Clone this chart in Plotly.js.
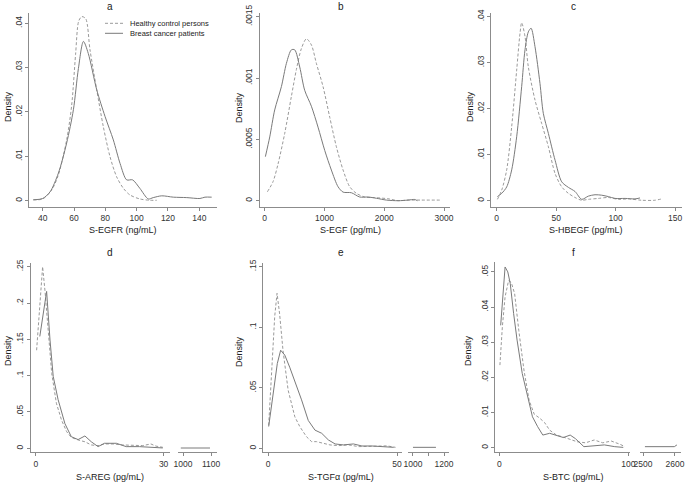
<!DOCTYPE html>
<html>
<head>
<meta charset="utf-8">
<script src="https://cdn.plot.ly/plotly-3.0.1.min.js"></script>
<style>
  body { margin: 0; background: #fff; }
  #chart { width: 685px; height: 483px; }
</style>
</head>
<body>
<div id="chart"></div>
<script>
// données (densités estimées)
// a - S-EGFR
var egfrX_h = [34, 40, 45.7, 50, 55.3, 58.5, 61, 63, 65, 67.5, 70.2, 74.5, 78.7, 83, 87.2, 91.5, 95.7, 102, 108.5, 112.8];
var egfrY_h = [0.0002, 0.0004, 0.0024, 0.0058, 0.0137, 0.0215, 0.033, 0.0405, 0.0415, 0.041, 0.034, 0.025, 0.0167, 0.0099, 0.0054, 0.0028, 0.0013, 0.0004, 0.0001, 0.0001];
var egfrX_c = [34, 40, 44.7, 50, 55.3, 59.6, 62.8, 66, 69.1, 74.5, 79.8, 85.1, 89.4, 93.6, 97.4, 102, 107.4, 110.6, 116, 123.4, 132, 140.4, 143.6, 147.9];
var egfrY_c = [0.0002, 0.0005, 0.002, 0.0062, 0.013, 0.0205, 0.0298, 0.0359, 0.0332, 0.025, 0.019, 0.0137, 0.0084, 0.0047, 0.0047, 0.0028, 0.0004, 0.0007, 0.0011, 0.0008, 0.0007, 0.0005, 0.0008, 0.0008];

// b - S-EGF
var egfX_h = [45, 139, 223, 335, 446, 530, 613, 697, 781, 864, 976, 1088, 1199, 1311, 1422, 1534, 1673, 1840, 2064, 2231, 2398, 2621, 2928];
var egfY_h = [0.000073, 0.000155, 0.0003, 0.00055, 0.00085, 0.00107, 0.00124, 0.00132, 0.00127, 0.00112, 0.00093, 0.00068, 0.00044, 0.00025, 0.000114, 0.00006, 0.00003, 0.000025, 0.000016, 0, 0.000005, 0.000005, 0.000005];
var egfX_c = [11, 84, 167, 279, 363, 446, 502, 586, 669, 781, 892, 1004, 1115, 1227, 1311, 1450, 1590, 1729, 1868, 2036, 2231, 2398, 2510, 2554];
var egfY_c = [0.000359, 0.00052, 0.00074, 0.00093, 0.00112, 0.00123, 0.00123, 0.00109, 0.0009, 0.00077, 0.0006, 0.00041, 0.00025, 0.000114, 0.00007, 0.000065, 0.00003, 0.00003, 0.00002, 0.000005, 0, 0.000005, 0.00001, 0];

// c - S-HBEGF
var hbegfX_h = [0.6, 4.2, 8.4, 12.6, 16.8, 19.6, 21, 23.8, 26.6, 32.2, 37.8, 43.5, 49.1, 54.7, 60.3, 65.9, 71.5, 77.1, 85.5, 93.9, 102.3, 110.7, 122, 133, 138.8];
var hbegfY_h = [0.0003, 0.0023, 0.0067, 0.0161, 0.0284, 0.0364, 0.0387, 0.0357, 0.0291, 0.0219, 0.0168, 0.0117, 0.0059, 0.003, 0.0016, 0.0007, 0.0001, 0.0003, 0.0005, 0.0007, 0.0003, 0.0004, 0.0001, 0.0001, 0.0004];
var hbegfX_c = [0.6, 4.2, 8.4, 12.6, 16.8, 21, 23.8, 26.6, 28.9, 32.2, 36.4, 39.2, 43.5, 49.1, 54.7, 60.3, 65.9, 71.5, 77.1, 82.7, 88.3, 93.9, 99.5, 108, 116.3, 120.5];
var hbegfY_c = [0.0009, 0.0016, 0.003, 0.0067, 0.0139, 0.0248, 0.0328, 0.0367, 0.0375, 0.0335, 0.0255, 0.019, 0.0146, 0.0088, 0.0041, 0.0029, 0.002, 0.0003, 0.001, 0.0013, 0.0012, 0.0009, 0.0005, 0.0005, 0.0004, 0.0006];

// d - S-AREG
var aregX_h = [0.15, 0.8, 1.56, 2.1, 2.9, 3.7, 4.8, 6, 7.2, 8.3, 9.9, 11.5, 13, 14.6, 16.1, 18.1, 20.4, 22.8, 25.1, 27, 28.2, 29.8];
var aregY_h = [0.135, 0.195, 0.25, 0.218, 0.154, 0.103, 0.062, 0.039, 0.023, 0.015, 0.0115, 0.009, 0.0046, 0.0037, 0.006, 0.006, 0.0046, 0.0037, 0.0037, 0.006, 0.003, 0.0014];
var aregX_c = [0.9, 1.7, 2.5, 3.3, 4.05, 5.2, 6.8, 8.3, 9.9, 11.5, 13, 14.6, 16.1, 18.9, 21.2, 24.3, 27.4, 29.8];
var aregY_c = [0.154, 0.186, 0.216, 0.149, 0.099, 0.067, 0.034, 0.016, 0.012, 0.017, 0.009, 0.0023, 0.0069, 0.0069, 0.0023, 0.0023, 0.0014, 0.0005];
var aregX_c2 = [992, 1096];
var aregY_c2 = [0.0004, 0.0004];

// e - S-TGFα
var tgfX_h = [0.26, 1.3, 2.6, 3.5, 4.5, 5.8, 7.8, 10.4, 12.3, 14.9, 16.9, 18.8, 21.4, 24, 27.3, 31.2, 35.1, 39, 42.9, 46.1, 49.4];
var tgfY_h = [0.019, 0.062, 0.109, 0.128, 0.111, 0.081, 0.048, 0.026, 0.018, 0.0096, 0.0055, 0.0055, 0.0041, 0.0028, 0.0022, 0.0028, 0.0014, 0.0014, 0.0014, 0.002, 0.0008];
var tgfX_c = [0.26, 1.9, 3.6, 4.9, 6.5, 8.4, 10.4, 13, 15.6, 18.2, 20.8, 23.4, 26, 29.2, 33.1, 36.4, 40.3, 44.2, 48.7];
var tgfY_c = [0.018, 0.045, 0.07, 0.081, 0.077, 0.067, 0.056, 0.04, 0.023, 0.015, 0.0124, 0.0069, 0.0036, 0.0028, 0.0036, 0.0019, 0.0019, 0.0014, 0.0008];
var tgfX_c2 = [1000, 1148];
var tgfY_c2 = [0.0008, 0.0008];

// f - S-BTC
var btcX_h = [0.5, 2.4, 4.5, 7.2, 9.3, 11.9, 15.1, 19.1, 23.1, 27.1, 31, 35, 39, 44.3, 52.3, 60.2, 66.8, 73.5, 80.1, 86.7, 93.4, 97.3];
var btcY_h = [0.0235, 0.0344, 0.0429, 0.0475, 0.047, 0.0438, 0.0334, 0.0221, 0.0135, 0.0095, 0.0085, 0.0072, 0.005, 0.0036, 0.0027, 0.0017, 0.0014, 0.0022, 0.0014, 0.0019, 0.001, 0.0003];
var btcX_c = [1.1, 2.7, 4.5, 6.6, 8.5, 11.1, 13.8, 17.8, 21.8, 25.7, 29.7, 33.7, 39, 44.3, 49.6, 54.9, 58.9, 65.5, 73.5, 81.4, 89.4, 96];
var btcY_c = [0.0348, 0.0438, 0.0514, 0.05, 0.0467, 0.0382, 0.0306, 0.0211, 0.0145, 0.0088, 0.006, 0.0036, 0.0041, 0.0036, 0.0029, 0.0036, 0.0026, 0.0003, 0.0005, 0.0008, 0.0003, 0.0001];
var btcX_c2 = [2506, 2598, 2606];
var btcY_c2 = [0.0003, 0.0003, 0.0008];

// graduations
var yTicksA = [0, 0.01, 0.02, 0.03, 0.04];
var yTextA = ["0", ".01", ".02", ".03", ".04"];
var yTicksB = [0, 0.0005, 0.001, 0.0015];
var yTextB = ["0", ".0005", ".001", ".0015"];
var yTicksD = [0, 0.05, 0.1, 0.15, 0.2, 0.25];
var yTextD = ["0", ".05", ".1", ".15", ".2", ".25"];
var yTicksE = [0, 0.05, 0.1, 0.15];
var yTextE = ["0", ".05", ".1", ".15"];
var yTicksF = [0, 0.01, 0.02, 0.03, 0.04, 0.05];
var yTextF = ["0", ".01", ".02", ".03", ".04", ".05"];

var panelLetters = ["a", "b", "c", "d", "e", "f"];
var xTitles = ["S-EGFR (ng/mL)", "S-EGF (pg/mL)", "S-HBEGF (pg/mL)", "S-AREG (pg/mL)", "S-TGFα (pg/mL)", "S-BTC (pg/mL)"];
var legendNames = ["Healthy control persons", "Breast cancer patients"];

var W = 685, H = 483;
function px(x) { return x / W; }
function py(y) { return 1 - y / H; }

var dashedLine = { color: "#9a9a9a", width: 1, dash: "3px,2px" };
var solidLine = { color: "#7a7a7a", width: 1 };

function courbe(x, y, xa, ya, dashed, smooth) {
  return {
    x: x, y: y, xaxis: xa, yaxis: ya, type: "scatter", mode: "lines",
    line: Object.assign({}, dashed ? dashedLine : solidLine, smooth ? { shape: "spline", smoothing: 0.8 } : {}),
    showlegend: false, hoverinfo: "skip"
  };
}

var data = [
  courbe(egfrX_h, egfrY_h, "x", "y", true, true),
  courbe(egfrX_c, egfrY_c, "x", "y", false, true),
  courbe(egfX_h, egfY_h, "x2", "y2", true, true),
  courbe(egfX_c, egfY_c, "x2", "y2", false, true),
  courbe(hbegfX_h, hbegfY_h, "x3", "y3", true, true),
  courbe(hbegfX_c, hbegfY_c, "x3", "y3", false, true),
  courbe(aregX_h, aregY_h, "x4", "y4", true, false),
  courbe(aregX_c, aregY_c, "x4", "y4", false, false),
  courbe(aregX_c2, aregY_c2, "x7", "y4", false, false),
  courbe(tgfX_h, tgfY_h, "x5", "y5", true, false),
  courbe(tgfX_c, tgfY_c, "x5", "y5", false, false),
  courbe(tgfX_c2, tgfY_c2, "x8", "y5", false, false),
  courbe(btcX_h, btcY_h, "x6", "y6", true, false),
  courbe(btcX_c, btcY_c, "x6", "y6", false, false),
  courbe(btcX_c2, btcY_c2, "x9", "y6", false, false)
];

var tickFont = { family: "Liberation Sans, Arial, sans-serif", size: 8.5, color: "#333" };

function axeX(d0, d1, range, vals, text, anchor) {
  return {
    domain: [px(d0), px(d1)], range: range, anchor: anchor,
    tickvals: vals, ticktext: text, ticks: "outside", ticklen: 3, tickcolor: "#888",
    showline: true, linecolor: "#8c8c8c", linewidth: 1, showgrid: false, zeroline: false,
    tickfont: tickFont, fixedrange: true
  };
}
function axeY(top, bot, range, vals, text, anchor) {
  return {
    domain: [py(bot), py(top)], range: range, anchor: anchor,
    tickvals: vals, ticktext: text, tickangle: -90, ticks: "outside", ticklen: 3, tickcolor: "#888",
    showline: true, linecolor: "#8c8c8c", linewidth: 1, showgrid: false, zeroline: false,
    tickfont: tickFont, fixedrange: true
  };
}

var layout = {
  width: W, height: H,
  margin: { l: 0, r: 0, t: 0, b: 0 },
  paper_bgcolor: "#fff", plot_bgcolor: "rgba(0,0,0,0)",
  font: { family: "Liberation Sans, Arial, sans-serif", color: "#222" },
  xaxis: axeX(29, 217, [31.25, 151.3], [40, 60, 80, 100, 120, 140], ["40", "60", "80", "100", "120", "140"], "y"),
  yaxis: axeY(13.3, 206.7, [-0.00135, 0.04224], yTicksA, yTextA, "x"),
  xaxis2: axeX(259.7, 449.7, [-84, 3095], [0, 1000, 2000, 3000], ["0", "1000", "2000", "3000"], "y2"),
  yaxis2: axeY(13.3, 206.7, [-0.0000489, 0.001528], yTicksB, yTextB, "x2"),
  xaxis3: axeX(491, 681.7, [-4.8, 155.6], [0, 50, 100, 150], ["0", "50", "100", "150"], "y3"),
  yaxis3: axeY(13.3, 206.7, [-0.0013, 0.04074], yTicksA, yTextA, "x3"),
  xaxis4: axeX(30.7, 170, [-1.24, 31.5], [0, 30], ["0", "30"], "y4"),
  yaxis4: axeY(263.3, 452.3, [-0.0055, 0.2547], yTicksD, yTextD, "x4"),
  xaxis5: axeX(263, 401.7, [-1.94, 51.8], [0, 50], ["0", "50"], "y5"),
  yaxis5: axeY(263.3, 452.3, [-0.0033, 0.1528], yTicksE, yTextE, "x5"),
  xaxis6: axeX(495, 630, [-3.3, 101.2], [0, 100], ["0", "100"], "y6"),
  yaxis6: axeY(261.7, 452.3, [-0.0013, 0.0529], yTicksF, yTextF, "x6"),
  xaxis7: axeX(178, 217, [982, 1121], [1000, 1100], ["1000", "1100"], "y4"),
  xaxis8: axeX(408, 449, [968, 1232], [1000, 1100, 1200], ["1000", "", "1200"], "y5"),
  xaxis9: axeX(640, 681, [2490.6, 2618.8], [2500, 2600], ["2500", "2600"], "y6"),
  annotations: [],
  shapes: []
};

// titres des panneaux, axes
var letterPos = [[110, 6], [341, 6], [573, 6], [110, 252], [341, 252], [573, 252]];
var xTitlePos = [[123, 230], [350, 230], [586, 230], [110, 477], [341, 477], [573, 477]];
var yTitlePos = [[8, 107], [239, 107], [470, 107], [8, 351], [239, 351], [468, 351]];
for (var i = 0; i < 6; i++) {
  layout.annotations.push({ text: panelLetters[i], xref: "paper", yref: "paper", x: px(letterPos[i][0]), y: py(letterPos[i][1]),
    showarrow: false, xanchor: "center", yanchor: "middle", font: { size: 10, color: "#222" } });
  layout.annotations.push({ text: xTitles[i], xref: "paper", yref: "paper", x: px(xTitlePos[i][0]), y: py(xTitlePos[i][1]),
    showarrow: false, xanchor: "center", yanchor: "middle", font: { size: 9, color: "#222" } });
  layout.annotations.push({ text: "Density", xref: "paper", yref: "paper", x: px(yTitlePos[i][0]), y: py(yTitlePos[i][1]),
    showarrow: false, xanchor: "center", yanchor: "middle", textangle: -90, font: { size: 9, color: "#222" } });
}

// légende
var legY = [23.3, 33.3];
for (var j = 0; j < 2; j++) {
  var ln = j === 0 ? dashedLine : solidLine;
  layout.shapes.push({ type: "line", xref: "paper", yref: "paper", x0: px(105), x1: px(123), y0: py(legY[j]), y1: py(legY[j]),
    line: { color: ln.color, width: 1, dash: j === 0 ? "3px,2px" : "solid" } });
  layout.annotations.push({ text: legendNames[j], xref: "paper", yref: "paper", x: px(128), y: py(legY[j]),
    showarrow: false, xanchor: "left", yanchor: "middle", font: { size: 7.5, color: "#222" } });
}

Plotly.newPlot("chart", data, layout, { staticPlot: true, displayModeBar: false });
</script>
</body>
</html>
